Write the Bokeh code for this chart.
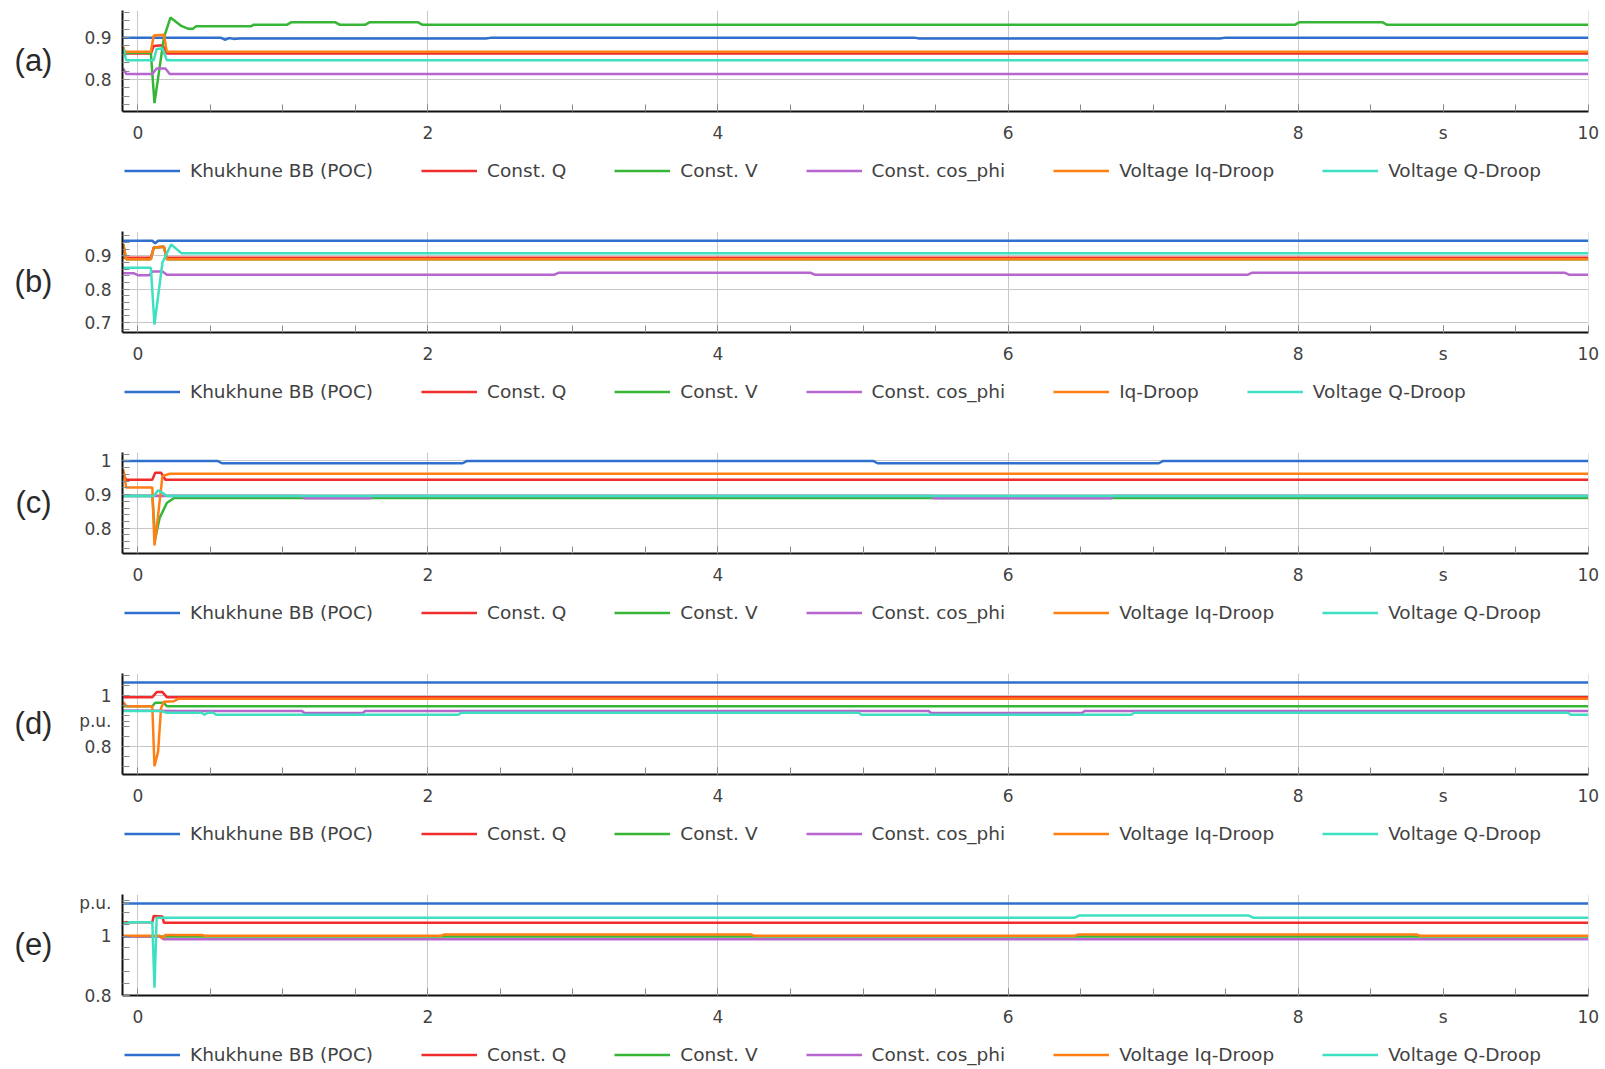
from bokeh.plotting import figure
from bokeh.models import Range1d, FixedTicker, Legend, LegendItem
from bokeh.layouts import column, row
from bokeh.core.properties import value
from bokeh.embed import file_html
from bokeh.resources import INLINE

# ---------------- data ----------------
NAMES = ["Khukhune BB (POC)", "Const. Q", "Const. V", "Const. cos_phi",
         "Voltage Iq-Droop", "Voltage Q-Droop"]
NAMES_B = ["Khukhune BB (POC)", "Const. Q", "Const. V", "Const. cos_phi",
           "Iq-Droop", "Voltage Q-Droop"]
COLORS = ["#2f6fcd", "#f02c2c", "#36b536", "#b866cf", "#ff7f14", "#3fe0c2"]
PANEL_LABELS = ["(a)", "(b)", "(c)", "(d)", "(e)"]

X_TICKS = [0, 2, 4, 6, 8, 9, 10]
X_TICK_LABELS = {9: "s"}
X_GRID = [0, 2, 4, 6, 8, 10]

# panel (a)
A_POC = [(-0.1, 0.900), (0.57, 0.900), (0.60, 0.895), (0.63, 0.899), (0.66, 0.897),
         (0.70, 0.898), (2.40, 0.898), (2.44, 0.900), (5.35, 0.900), (5.39, 0.898),
         (7.46, 0.898), (7.50, 0.900), (10.0, 0.900)]
A_Q = [(-0.1, 0.862), (0.09, 0.862), (0.11, 0.880), (0.17, 0.882), (0.20, 0.862), (10.0, 0.862)]
A_V = [(-0.1, 0.864), (0.09, 0.864), (0.115, 0.743), (0.18, 0.900), (0.225, 0.948),
       (0.30, 0.928), (0.35, 0.921), (0.38, 0.921), (0.40, 0.927), (0.78, 0.927),
       (0.80, 0.931), (1.03, 0.931), (1.06, 0.937), (1.36, 0.937), (1.39, 0.931),
       (1.57, 0.931), (1.60, 0.937), (1.93, 0.937), (1.96, 0.931), (7.98, 0.931),
       (8.01, 0.937), (8.58, 0.937), (8.61, 0.931), (10.0, 0.931)]
A_COS = [(-0.1, 0.826), (-0.08, 0.813), (0.10, 0.813), (0.13, 0.826), (0.19, 0.826),
         (0.22, 0.813), (10.0, 0.813)]
A_IQ = [(-0.1, 0.878), (-0.09, 0.866), (0.09, 0.866), (0.11, 0.905), (0.18, 0.907),
        (0.20, 0.866), (10.0, 0.866)]
A_QD = [(-0.1, 0.874), (-0.08, 0.846), (0.11, 0.846), (0.13, 0.873), (0.17, 0.874),
        (0.20, 0.846), (10.0, 0.846)]

# panel (b)
B_POC = [(-0.1, 0.945), (0.10, 0.945), (0.12, 0.938), (0.14, 0.945), (10.0, 0.945)]
B_Q = [(-0.1, 0.894), (0.09, 0.894), (0.11, 0.925), (0.18, 0.927), (0.20, 0.894), (10.0, 0.894)]
B_V = [(-0.1, 0.935), (-0.08, 0.890), (0.09, 0.890), (0.11, 0.925), (0.18, 0.927),
       (0.20, 0.890), (10.0, 0.890)]
B_COS = [(-0.1, 0.848), (-0.03, 0.848), (0.0, 0.842), (0.08, 0.842), (0.10, 0.853),
         (0.17, 0.853), (0.20, 0.843), (2.87, 0.843), (2.90, 0.849), (4.64, 0.849),
         (4.67, 0.843), (7.65, 0.843), (7.68, 0.849), (9.84, 0.849), (9.87, 0.843),
         (10.0, 0.843)]
B_IQ = [(-0.1, 0.935), (-0.08, 0.890), (0.09, 0.890), (0.11, 0.925), (0.18, 0.927),
        (0.20, 0.890), (10.0, 0.890)]
B_QD = [(-0.1, 0.864), (0.09, 0.864), (0.115, 0.694), (0.17, 0.880), (0.23, 0.934),
        (0.30, 0.908), (10.0, 0.908)]

# panel (c)
C_POC = [(-0.1, 1.000), (0.55, 1.000), (0.58, 0.993), (2.24, 0.993), (2.27, 1.000),
         (5.07, 1.000), (5.10, 0.993), (7.04, 0.993), (7.07, 1.000), (10.0, 1.000)]
C_Q = [(-0.1, 0.960), (-0.08, 0.944), (0.10, 0.944), (0.12, 0.965), (0.16, 0.965),
       (0.19, 0.944), (10.0, 0.944)]
C_V = [(-0.1, 0.896), (0.10, 0.896), (0.12, 0.769), (0.15, 0.830), (0.20, 0.875),
       (0.25, 0.890), (10.0, 0.890)]
C_COS = [(-0.1, 0.896), (1.13, 0.896), (1.15, 0.889), (1.60, 0.889), (1.62, 0.896),
         (5.47, 0.896), (5.49, 0.889), (6.71, 0.889), (6.73, 0.896), (10.0, 0.896)]
C_IQ = [(-0.1, 0.975), (-0.08, 0.921), (0.10, 0.921), (0.115, 0.749), (0.13, 0.800),
        (0.17, 0.955), (0.22, 0.962), (10.0, 0.962)]
C_QD = [(-0.1, 0.896), (0.11, 0.896), (0.14, 0.913), (0.17, 0.905), (0.20, 0.896), (10.0, 0.896)]

# panel (d)
D_POC = [(-0.1, 1.052), (10.0, 1.052)]
D_Q = [(-0.1, 0.994), (0.10, 0.994), (0.13, 1.014), (0.17, 1.014), (0.20, 0.994), (10.0, 0.994)]
D_V = [(-0.1, 0.958), (0.10, 0.958), (0.12, 0.972), (0.18, 0.972), (0.20, 0.958), (10.0, 0.958)]
D_COS = [(-0.1, 0.942), (0.30, 0.940), (1.13, 0.940), (1.15, 0.932), (1.55, 0.932),
         (1.57, 0.940), (5.45, 0.940), (5.47, 0.932), (6.51, 0.932), (6.53, 0.940),
         (10.0, 0.940)]
D_IQ = [(-0.1, 0.975), (-0.08, 0.958), (0.10, 0.958), (0.115, 0.723), (0.14, 0.780),
        (0.16, 0.950), (0.18, 0.976), (0.25, 0.978), (0.28, 0.988), (10.0, 0.988)]
D_QD = [(-0.1, 0.940), (0.15, 0.940), (0.20, 0.933), (0.44, 0.933), (0.46, 0.925),
        (0.48, 0.933), (0.52, 0.933), (0.54, 0.925), (2.21, 0.925), (2.23, 0.933),
        (4.97, 0.933), (4.99, 0.925), (6.85, 0.925), (6.87, 0.933), (9.86, 0.933),
        (9.88, 0.925), (10.0, 0.925)]

# panel (e)
E_POC = [(-0.1, 1.110), (10.0, 1.110)]
E_Q = [(-0.1, 1.047), (0.10, 1.047), (0.11, 1.068), (0.17, 1.066), (0.18, 1.045), (10.0, 1.045)]
E_V = [(-0.1, 0.999), (10.0, 0.999)]
E_COS = [(-0.1, 0.999), (0.15, 0.999), (0.18, 0.989), (10.0, 0.989)]
E_IQ = [(-0.1, 1.001), (0.15, 1.001), (0.17, 0.993), (0.19, 1.004), (0.44, 1.004),
        (0.46, 1.001), (2.09, 1.001), (2.11, 1.005), (4.23, 1.005), (4.25, 1.001),
        (6.46, 1.001), (6.48, 1.005), (8.82, 1.005), (8.84, 1.001), (10.0, 1.001)]
E_QD = [(-0.1, 1.047), (-0.08, 1.040), (-0.06, 1.047), (0.10, 1.047), (0.115, 0.826),
        (0.13, 1.062), (6.46, 1.062), (6.49, 1.069), (7.66, 1.069), (7.69, 1.062),
        (10.0, 1.062)]

PANELS = [
    dict(series=[A_POC, A_Q, A_V, A_COS, A_IQ, A_QD], names=NAMES,
         yr=(0.723, 0.965), ticks=[0.8, 0.9], labels={}, grid=[0.8, 0.9], minor=0.02),
    dict(series=[B_POC, B_Q, B_V, B_COS, B_IQ, B_QD], names=NAMES_B,
         yr=(0.670, 0.973), ticks=[0.7, 0.8, 0.9], labels={}, grid=[0.7, 0.8, 0.9], minor=0.02),
    dict(series=[C_POC, C_Q, C_V, C_COS, C_IQ, C_QD], names=NAMES,
         yr=(0.725, 1.025), ticks=[0.8, 0.9, 1.0], labels={1.0: "1"}, grid=[0.8, 0.9, 1.0], minor=0.02),
    dict(series=[D_POC, D_Q, D_V, D_COS, D_IQ, D_QD], names=NAMES,
         yr=(0.690, 1.087), ticks=[0.8, 0.9, 1.0], labels={0.9: "p.u.", 1.0: "1"}, grid=[0.8, 1.0], minor=0.04),
    dict(series=[E_POC, E_Q, E_V, E_COS, E_IQ, E_QD], names=NAMES,
         yr=(0.800, 1.140), ticks=[0.8, 1.0, 1.11], labels={1.0: "1", 1.11: "p.u."}, grid=[0.8, 1.0], minor=0.04),
]

TEXT = "#424242"
FONT = "DejaVu Sans"
FRAME_H = 101
TOP = 10
BOTTOM = 35
PLOT_H = TOP + FRAME_H + BOTTOM
LEFT_W = 70
PERIOD = 221
LEG_CENTER = 24   # legend centre below the top of the legend strip

blocks = []
for i, pn in enumerate(PANELS):
    last = i == len(PANELS) - 1
    leg_h = (1068 - 4 * PERIOD - PLOT_H) if last else (PERIOD - PLOT_H)

    # left strip carrying the panel letter
    lab = figure(width=LEFT_W, height=PLOT_H, output_backend="svg", toolbar_location=None,
                 x_range=Range1d(0, LEFT_W), y_range=Range1d(0, PLOT_H),
                 x_axis_type=None, y_axis_type=None, min_border=0)
    lab.outline_line_color = None
    lab.text(x=[33], y=[PLOT_H - TOP - FRAME_H / 2 - 12], text=[PANEL_LABELS[i]],
             text_align="center", text_baseline="middle",
             text_font=value("Liberation Sans"), text_font_size="31px",
             text_color="#2a2a2a")

    p = figure(width=1600 - LEFT_W, height=PLOT_H, output_backend="svg", toolbar_location=None,
               x_range=Range1d(-0.1055, 10.002), y_range=Range1d(*pn["yr"]),
               min_border_left=122 - LEFT_W, min_border_right=12, min_border_top=TOP,
               min_border_bottom=BOTTOM)
    p.outline_line_color = None
    p.background_fill_color = "white"

    lo, hi = pn["yr"]
    step = pn["minor"]
    minor_y = [round(k * step, 3) for k in range(int(lo / step), int(hi / step) + 2)]
    p.yaxis.ticker = FixedTicker(ticks=pn["ticks"], minor_ticks=minor_y)
    p.yaxis.major_label_overrides = pn["labels"]
    p.xaxis.ticker = FixedTicker(ticks=X_TICKS, minor_ticks=[k * 0.5 for k in range(1, 20)])
    p.xaxis.major_label_overrides = X_TICK_LABELS
    p.xgrid.ticker = FixedTicker(ticks=X_GRID)
    p.ygrid.ticker = FixedTicker(ticks=pn["grid"])
    for g in (p.xgrid, p.ygrid):
        g.grid_line_color = "#c8c8c8"
        g.grid_line_width = 1

    for ax in (p.xaxis, p.yaxis):
        ax.axis_line_color = "#111111"
        ax.axis_line_width = 2
        ax.major_tick_in = 7
        ax.major_tick_out = 0
        ax.minor_tick_in = 7
        ax.minor_tick_out = 0
        ax.major_tick_line_color = "#8a8a8a"
        ax.minor_tick_line_color = "#8a8a8a"
        ax.major_label_text_font = FONT
        ax.major_label_text_font_size = "17px"
        ax.major_label_text_color = TEXT
        ax.major_label_standoff = 11

    for s, col in zip(pn["series"], COLORS):
        t = [a for a, b in s]
        v = [b for a, b in s]
        p.line(t, v, line_color=col, line_width=2.5)

    # legend strip under the plot; its keys reuse the series, which lie outside this view
    lf = figure(width=1600, height=leg_h, output_backend="svg", toolbar_location=None,
                x_range=Range1d(0, 1), y_range=Range1d(50, 51),
                x_axis_type=None, y_axis_type=None, min_border=0)
    lf.outline_line_color = None
    items = []
    for s, name, col in zip(pn["series"], pn["names"], COLORS):
        t = [a for a, b in s]
        v = [b for a, b in s]
        r = lf.line(t, v, line_color=col, line_width=2.5)
        items.append(LegendItem(label=name, renderers=[r]))
    leg = Legend(items=items, orientation="horizontal",
                 location=(124, leg_h - LEG_CENTER - 10.5),
                 glyph_width=56, glyph_height=21, label_standoff=10, spacing=48,
                 padding=0, margin=0, border_line_alpha=0, background_fill_alpha=0,
                 label_text_font=FONT, label_text_font_size="18.5px",
                 label_text_color=TEXT)
    lf.add_layout(leg, "center")

    blocks.append(column(row(lab, p, spacing=0), lf, spacing=0))

layout = column(*blocks, spacing=0)
open("out.html", "w").write(file_html(layout, INLINE))
